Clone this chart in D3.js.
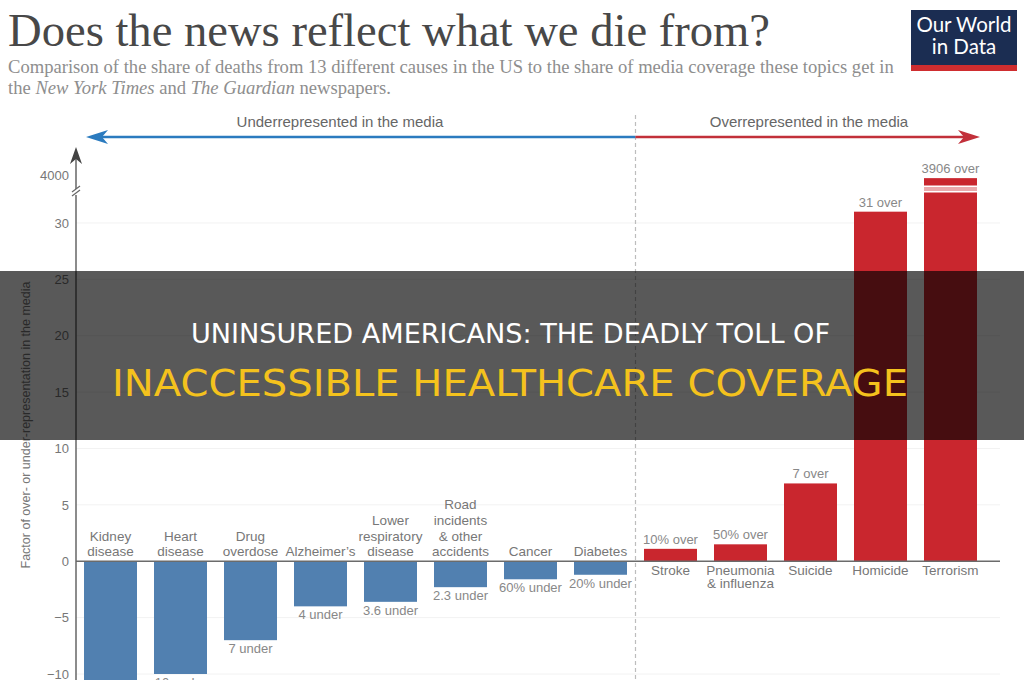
<!DOCTYPE html>
<head>
  <meta charset="utf-8">
  <script src="https://d3js.org/d3.v7.min.js"></script>
  <style>
    body { margin:0; background:#fff; }
    svg { display:block; }
  </style>
</head>
<body>
  <svg id="chart" width="1024" height="680"></svg>
  <script>
    // causes, left to right
    const causes = ["Kidney disease", "Heart disease", "Drug overdose", "Alzheimer's",
      "Lower respiratory disease", "Road incidents & other accidents", "Cancer", "Diabetes",
      "Stroke", "Pneumonia & influenza", "Suicide", "Homicide", "Terrorism"];
    const causeLines = [["Kidney", "disease"], ["Heart", "disease"], ["Drug", "overdose"], ["Alzheimer’s"],
      ["Lower", "respiratory", "disease"], ["Road", "incidents", "& other", "accidents"], ["Cancer"], ["Diabetes"],
      ["Stroke"], ["Pneumonia", "& influenza"], ["Suicide"], ["Homicide"], ["Terrorism"]];
    // factor of over (+) / under (-) representation
    const factors = [-13, -10, -7, -4, -3.6, -2.3, -1.6, -1.2, 1.1, 1.5, 6.9, 31, 3906];
    const valueLabels = ["13 under", "10 under", "7 under", "4 under", "3.6 under", "2.3 under",
      "60% under", "20% under", "10% over", "50% over", "7 over", "31 over", "3906 over"];
    const yTicks = [-10, -5, 0, 5, 10, 15, 20, 25, 30, 4000];

    const svg = d3.select("#chart");
    const sans = "'Liberation Sans', Arial, Helvetica, sans-serif";
    const serif = "'Liberation Serif', Georgia, serif";
    const blue = "#5180b0", red = "#c9262e";

    // broken axis: linear up to ~32, then jump to the 4000 region
    const y = d3.scaleLinear().domain([-10, 32, 3700, 4000]).range([674, 200.4, 185, 175]);
    const x = d3.scaleBand().domain(causes).range([67, 994]).paddingInner(0.243).paddingOuter(0.243);
    const axisX = 76;

    // title + subtitle
    svg.append("text").attr("x", 8).attr("y", 46)
      .style("font", `46.6px ${serif}`).attr("fill", "#484848")
      .text("Does the news reflect what we die from?");
    const sub = svg.append("g").style("font", `18.6px ${serif}`).attr("fill", "#8e8e8e");
    sub.append("text").attr("x", 8).attr("y", 73)
      .text("Comparison of the share of deaths from 13 different causes in the US to the share of media coverage these topics get in");
    const sub2 = sub.append("text").attr("x", 8).attr("y", 94);
    sub2.append("tspan").text("the ");
    sub2.append("tspan").style("font-style", "italic").text("New York Times");
    sub2.append("tspan").text(" and ");
    sub2.append("tspan").style("font-style", "italic").text("The Guardian");
    sub2.append("tspan").text(" newspapers.");

    // logo
    const logo = svg.append("g");
    logo.append("rect").attr("x", 911).attr("y", 10).attr("width", 106).attr("height", 55).attr("fill", "#1b2d52");
    logo.append("rect").attr("x", 911).attr("y", 65).attr("width", 106).attr("height", 6).attr("fill", "#cf2d2f");
    logo.selectAll("text").data(["Our World", "in Data"]).join("text")
      .attr("x", 964).attr("y", (d, i) => 32 + i * 22)
      .attr("text-anchor", "middle").attr("fill", "#fff")
      .style("font", "20.5px Lato, 'Open Sans', sans-serif")
      .text(d => d);

    // faint gridlines
    svg.append("g").selectAll("line").data(yTicks.filter(d => d !== 0 && d !== 4000)).join("line")
      .attr("x1", axisX).attr("x2", 1000).attr("y1", d => y(d)).attr("y2", d => y(d))
      .attr("stroke", "#f2f2f2");

    // divider between under / over
    const divX = x("Stroke") - x.step() * x.paddingInner() / 2;
    svg.append("line").attr("x1", divX).attr("x2", divX).attr("y1", 115).attr("y2", 680)
      .attr("stroke", "#bdbdbd").attr("stroke-width", 1.2).attr("stroke-dasharray", "4,3");

    // direction arrows
    const arrowY = 137;
    svg.append("line").attr("x1", divX).attr("x2", 100).attr("y1", arrowY).attr("y2", arrowY)
      .attr("stroke", "#2b7bbf").attr("stroke-width", 2.5);
    svg.append("path").attr("d", `M86,${arrowY}L108,${arrowY - 7}L102,${arrowY}L108,${arrowY + 7}Z`).attr("fill", "#2b7bbf");
    svg.append("line").attr("x1", divX).attr("x2", 966).attr("y1", arrowY).attr("y2", arrowY)
      .attr("stroke", "#c2303a").attr("stroke-width", 2.5);
    svg.append("path").attr("d", `M980,${arrowY}L958,${arrowY - 7}L964,${arrowY}L958,${arrowY + 7}Z`).attr("fill", "#c2303a");
    svg.append("text").attr("x", 340).attr("y", 127).attr("text-anchor", "middle")
      .style("font", `15px ${sans}`).attr("fill", "#666").text("Underrepresented in the media");
    svg.append("text").attr("x", 809).attr("y", 127).attr("text-anchor", "middle")
      .style("font", `15px ${sans}`).attr("fill", "#666").text("Overrepresented in the media");

    // bars
    const bars = svg.append("g");
    bars.selectAll("rect").data(causes).join("rect")
      .attr("x", d => x(d))
      .attr("width", x.bandwidth())
      .attr("y", (d, i) => Math.min(y(0), y(factors[i])))
      .attr("height", (d, i) => Math.abs(y(factors[i]) - y(0)))
      .attr("fill", (d, i) => factors[i] < 0 ? blue : red);

    // break stripe on the terrorism bar
    const tx = x("Terrorism");
    svg.append("rect").attr("x", tx).attr("width", x.bandwidth()).attr("y", 185.5).attr("height", 7).attr("fill", "#fff");
    svg.append("rect").attr("x", tx).attr("width", x.bandwidth()).attr("y", 187).attr("height", 4).attr("fill", "#eaa9ac");

    // zero line
    svg.append("line").attr("x1", axisX).attr("x2", 1000).attr("y1", y(0)).attr("y2", y(0))
      .attr("stroke", "#6b6b6b").attr("stroke-width", 1.5);

    // y axis
    const yAxis = d3.axisLeft(y).tickValues(yTicks).tickSize(0).tickPadding(7).tickFormat(d3.format("d"));
    const ag = svg.append("g").attr("transform", `translate(${axisX},0)`).call(yAxis);
    ag.select(".domain").remove();
    ag.selectAll("text").style("font", `13px ${sans}`).attr("fill", "#777");
    svg.append("line").attr("x1", axisX).attr("x2", axisX).attr("y1", 158).attr("y2", 680)
      .attr("stroke", "#666").attr("stroke-width", 1.5);
    svg.append("path").attr("d", `M${axisX},147L${axisX + 6},164L${axisX},159L${axisX - 6},164Z`).attr("fill", "#444");
    // break mark
    svg.append("rect").attr("x", axisX - 3).attr("y", 189).attr("width", 6).attr("height", 6).attr("fill", "#fff");
    svg.append("g").selectAll("line").data([0, 4]).join("line")
      .attr("x1", axisX - 4).attr("x2", axisX + 4)
      .attr("y1", d => 192 + d).attr("y2", d => 186 + d)
      .attr("stroke", "#666").attr("stroke-width", 1.2);

    svg.append("text")
      .attr("transform", `translate(30,425) rotate(-90)`)
      .attr("text-anchor", "middle")
      .style("font", `12.5px ${sans}`).attr("fill", "#777")
      .text("Factor of over- or under-representation in the media");

    // category labels
    const cat = svg.append("g").style("font", `13.5px ${sans}`).attr("fill", "#777").attr("text-anchor", "middle");
    causes.forEach((c, i) => {
      const lines = causeLines[i];
      const cx = x(c) + x.bandwidth() / 2;
      const t = cat.append("text");
      lines.forEach((ln, j) => {
        const yy = factors[i] < 0
          ? y(0) - 5 - (lines.length - 1 - j) * 15.7
          : y(0) + 14 + j * 13;
        t.append("tspan").attr("x", cx).attr("y", yy).text(ln);
      });
    });

    // value labels
    svg.append("g").style("font", `13px ${sans}`).attr("fill", "#888").attr("text-anchor", "middle")
      .selectAll("text").data(causes).join("text")
      .attr("x", d => x(d) + x.bandwidth() / 2)
      .attr("y", (d, i) => factors[i] < 0 ? y(factors[i]) + 13 : y(factors[i]) - 5)
      .text((d, i) => valueLabels[i]);

    // headline banner overlay
    svg.append("rect").attr("x", 0).attr("y", 271).attr("width", 1024).attr("height", 169)
      .attr("fill", "#000").attr("fill-opacity", 0.65);
    svg.append("text").attr("x", 191).attr("y", 343)
      .attr("textLength", 639).attr("lengthAdjust", "spacingAndGlyphs")
      .style("font", "26px 'Liberation Sans Narrow', 'DejaVu Sans Condensed', Roboto, sans-serif")
      .attr("fill", "#fff").text("UNINSURED AMERICANS: THE DEADLY TOLL OF");
    svg.append("text").attr("x", 112).attr("y", 396)
      .attr("textLength", 796).attr("lengthAdjust", "spacingAndGlyphs")
      .style("font", "37px 'Liberation Sans Narrow', 'DejaVu Sans Condensed', Roboto, sans-serif")
      .attr("fill", "#f4c21d").text("INACCESSIBLE HEALTHCARE COVERAGE");
  </script>
</body>
